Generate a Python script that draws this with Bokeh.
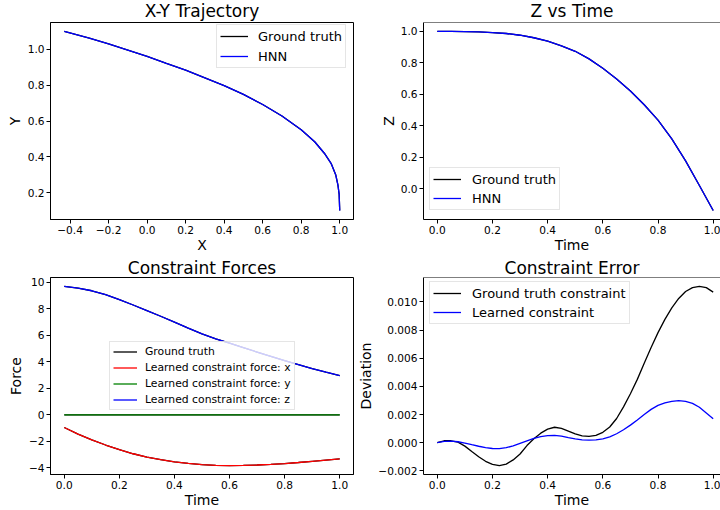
from bokeh.plotting import figure
from bokeh.layouts import column, row
from bokeh.models import Range1d, FixedTicker, CustomJSTickFormatter, Span
from bokeh.embed import file_html
from bokeh.resources import INLINE

FONT = "DejaVu Sans"

# ---- X-Y trajectory ----
traj_x = [-0.43, -0.30, -0.20, -0.10, 0.00, 0.10, 0.20, 0.30, 0.40, 0.50,
          0.60, 0.70, 0.80, 0.87, 0.92, 0.955, 0.979, 0.991, 0.997, 1.00]
traj_y = [1.100, 1.063, 1.031, 0.996, 0.961, 0.922, 0.884, 0.841, 0.798, 0.749,
          0.692, 0.628, 0.551, 0.484, 0.420, 0.364, 0.300, 0.240, 0.190, 0.100]
traj_x_hnn = traj_x
traj_y_hnn = traj_y

# ---- Z vs time ----
time_z = [0.00, 0.05, 0.10, 0.15, 0.20, 0.25, 0.30, 0.35, 0.40, 0.45, 0.50,
          0.55, 0.60, 0.65, 0.70, 0.75, 0.80, 0.85, 0.90, 0.95, 1.00]
z_truth = [1.000, 1.000, 0.999, 0.997, 0.993, 0.987, 0.976, 0.960, 0.938, 0.909, 0.874,
           0.826, 0.766, 0.698, 0.622, 0.535, 0.437, 0.318, 0.178, 0.022, -0.137]
z_hnn = z_truth

# ---- constraint forces ----
time_f = time_z
force_x = [-0.95, -1.45, -1.875, -2.27, -2.62, -2.93, -3.18, -3.38, -3.54, -3.66, -3.75,
           -3.80, -3.82, -3.81, -3.78, -3.73, -3.67, -3.59, -3.50, -3.41, -3.32]
force_y = [0.0] * 21
force_z = [9.70, 9.575, 9.375, 9.075, 8.70, 8.30, 7.875, 7.45, 7.00, 6.55, 6.125,
           5.75, 5.425, 5.075, 4.75, 4.425, 4.10, 3.80, 3.50, 3.225, 2.975]
force_x_truth, force_y_truth, force_z_truth = force_x, force_y, force_z

# ---- constraint error ----
time_e = [i * 0.025 for i in range(41)]
err_truth = [0.0, 0.00014, 0.00014, 0.00004, -0.00024, -0.00062, -0.00099, -0.00132,
             -0.00153, -0.00162, -0.00152, -0.00122, -0.00080, -0.00020, 0.00028,
             0.00068, 0.00097, 0.00110, 0.00102, 0.00083, 0.00063, 0.00049, 0.00045,
             0.00052, 0.00074, 0.00112, 0.00172, 0.00255, 0.00348, 0.00450, 0.00565,
             0.00676, 0.00782, 0.00876, 0.00958, 0.01025, 0.01074, 0.01102, 0.01110,
             0.01102, 0.01070]
err_learned = [0.0, 0.00010, 0.00012, 0.00007, -0.00002, -0.00014, -0.00025, -0.00035,
               -0.00041, -0.00042, -0.00035, -0.00022, -0.00004, 0.00014, 0.00031,
               0.00044, 0.00051, 0.00052, 0.00047, 0.00037, 0.00028, 0.00021, 0.00019,
               0.00021, 0.00028, 0.00042, 0.00064, 0.00092, 0.00125, 0.00162, 0.00200,
               0.00237, 0.00265, 0.00283, 0.00294, 0.00299, 0.00294, 0.00280, 0.00252,
               0.00212, 0.00171]

# tick positions
xy_xticks = [-0.4, -0.2, 0.0, 0.2, 0.4, 0.6, 0.8, 1.0]
xy_yticks = [0.2, 0.4, 0.6, 0.8, 1.0]
time_ticks = [0.0, 0.2, 0.4, 0.6, 0.8, 1.0]
z_ticks = [0.0, 0.2, 0.4, 0.6, 0.8, 1.0]
force_ticks = [-4, -2, 0, 2, 4, 6, 8, 10]
err_ticks = [-0.002, 0.0, 0.002, 0.004, 0.006, 0.008, 0.010]

LW = 1.3
RIGHT_X_END = 1.0265   # right-hand panels run off the page edge


def padded(vals, frac=0.05):
    lo, hi = min(vals), max(vals)
    m = (hi - lo) * frac
    return Range1d(lo - m, hi + m)


def fmt(d):
    return CustomJSTickFormatter(code="return tick.toFixed(%d).replace('-', '\u2212');" % d)


def make(width, height, x_range, y_range, borders, title, title_offset=0, title_valign="bottom"):
    l, r, t, b = borders
    p = figure(width=width, height=height, x_range=x_range, y_range=y_range,
               output_backend="svg", toolbar_location=None, tools="",
               min_border_left=l, min_border_right=r, min_border_top=t, min_border_bottom=b)
    p.background_fill_color = "white"
    p.border_fill_color = "white"
    p.xgrid.visible = False
    p.ygrid.visible = False
    p.outline_line_color = "black"
    p.outline_line_width = 1
    p.title.text = title
    p.title.text_font = FONT
    p.title.text_font_size = "17px"
    p.title.text_font_style = "normal"
    p.title.text_color = "black"
    p.title.align = "center"
    p.title.vertical_align = title_valign
    p.title.standoff = 0
    p.title.offset = title_offset
    return p


def style_axes(p, xlabel, ylabel, xticks, yticks, xd, yd, ylabel_standoff=2):
    p.xaxis.axis_label = xlabel
    p.yaxis.axis_label = ylabel
    p.xaxis.ticker = FixedTicker(ticks=xticks)
    p.yaxis.ticker = FixedTicker(ticks=yticks)
    p.xaxis.formatter = fmt(xd)
    p.yaxis.formatter = fmt(yd)
    for ax in (p.xaxis[0], p.yaxis[0]):
        ax.axis_line_color = "black"
        ax.axis_line_width = 1
        ax.major_tick_line_color = "black"
        ax.major_tick_out = 4
        ax.major_tick_in = 0
        ax.minor_tick_line_color = None
        ax.major_label_text_font = FONT
        ax.major_label_text_font_size = "10.6px"
        ax.major_label_text_color = "black"
        ax.major_label_standoff = 2
        ax.axis_label_text_font = FONT
        ax.axis_label_text_font_size = "14px"
        ax.axis_label_text_font_style = "normal"
        ax.axis_label_text_color = "black"
    p.xaxis.axis_label_standoff = 0
    p.yaxis.axis_label_standoff = ylabel_standoff


def style_legend(p, loc, font_size, row_h, spacing, glyph_w, standoff):
    lg = p.legend[0]
    lg.location = loc
    lg.margin = 0
    lg.padding = 3
    lg.spacing = spacing
    lg.glyph_height = row_h
    lg.label_height = row_h
    lg.glyph_width = glyph_w
    lg.label_standoff = standoff
    lg.label_text_font = FONT
    lg.label_text_font_size = font_size
    lg.label_text_color = "black"
    lg.border_line_color = "#cccccc"
    lg.border_line_width = 1
    lg.background_fill_color = "white"
    lg.background_fill_alpha = 0.8


def open_right_edge(p):
    # no right spine (it lies past the page edge); draw top spine explicitly
    p.outline_line_color = None
    p.add_layout(Span(location=p.y_range.end, dimension="width",
                      line_color="black", line_width=1))


LEFT_W, RIGHT_W, ROW_H = 354, 366, 255

# X-Y Trajectory
p1 = make(LEFT_W, ROW_H, padded(traj_x), padded(traj_y), (50, 1, 19, 36), "X-Y Trajectory",
          title_valign="top")
p1.line(traj_x, traj_y, line_color="black", line_width=LW, legend_label="Ground truth")
p1.line(traj_x_hnn, traj_y_hnn, line_color="blue", line_width=LW, legend_label="HNN")
style_axes(p1, "X", "Y", xy_xticks, xy_yticks, 1, 1)
style_legend(p1, (166, 151), "13px", 16, 4, 28, 10)

# Z vs Time
p2 = make(RIGHT_W, ROW_H, Range1d(-0.05, RIGHT_X_END), padded(z_truth), (69, 0, 19, 36),
          "Z vs Time", title_offset=4, title_valign="top")
p2.line(time_z, z_truth, line_color="black", line_width=LW, legend_label="Ground truth")
p2.line(time_z, z_hnn, line_color="blue", line_width=LW, legend_label="HNN")
style_axes(p2, "Time", "Z", time_ticks, z_ticks, 1, 1, ylabel_standoff=1)
style_legend(p2, (6, 9), "13px", 16, 3, 28, 11)
open_right_edge(p2)

# Constraint Forces
p3 = make(LEFT_W, ROW_H, Range1d(-0.05, 1.05), padded(force_x + force_z), (50, 1, 22, 35),
          "Constraint Forces")
p3.line(time_f, force_x_truth, line_color="black", line_width=LW, legend_label="Ground truth")
p3.line(time_f, force_y_truth, line_color="black", line_width=LW)
p3.line(time_f, force_z_truth, line_color="black", line_width=LW)
p3.line(time_f, force_x, line_color="red", line_width=LW, legend_label="Learned constraint force: x")
p3.line(time_f, force_y, line_color="green", line_width=LW, legend_label="Learned constraint force: y")
p3.line(time_f, force_z, line_color="blue", line_width=LW, legend_label="Learned constraint force: z")
style_axes(p3, "Time", "Force", time_ticks, force_ticks, 1, 0)
style_legend(p3, (59, 64), "10.8px", 13, 3, 24, 8)

# Constraint Error
p4 = make(RIGHT_W, ROW_H, Range1d(-0.05, RIGHT_X_END), padded(err_truth + err_learned),
          (69, 0, 22, 35), "Constraint Error", title_offset=4)
p4.line(time_e, err_truth, line_color="black", line_width=LW, legend_label="Ground truth constraint")
p4.line(time_e, err_learned, line_color="blue", line_width=LW, legend_label="Learned constraint")
style_axes(p4, "Time", "Deviation", time_ticks, err_ticks, 1, 3, ylabel_standoff=1)
style_legend(p4, (6, 150), "13px", 16, 3, 28, 11)
open_right_edge(p4)

layout = column(row(p1, p2), row(p3, p4))
open("out.html", "w").write(file_html(layout, INLINE))
